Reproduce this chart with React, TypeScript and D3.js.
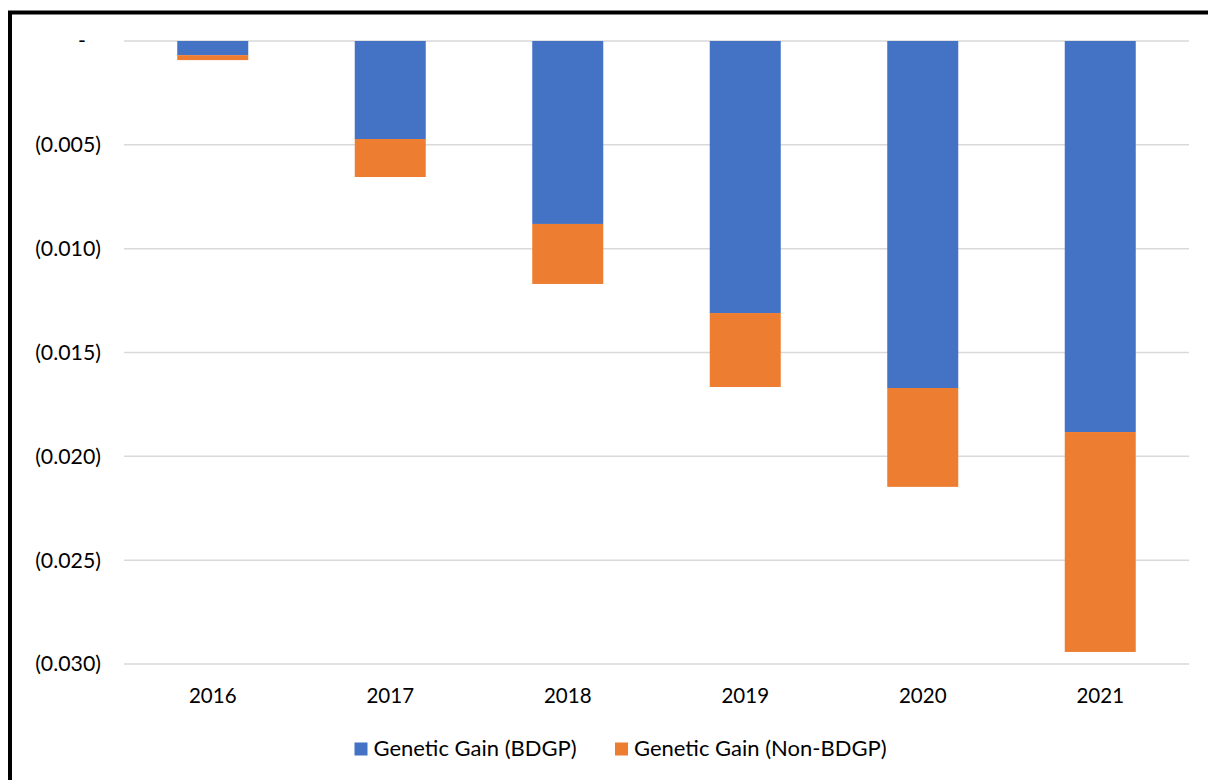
import React from "react";
import * as d3 from "d3";

const years = ["2016", "2017", "2018", "2019", "2020", "2021"];
const bdgp = [-0.00068, -0.00472, -0.00881, -0.0131, -0.01671, -0.01883];
const nonBdgp = [-0.00024, -0.00183, -0.00289, -0.00356, -0.00476, -0.01059];
const yTicks = [0, -0.005, -0.01, -0.015, -0.02, -0.025, -0.03];
const seriesNames = ["Genetic Gain (BDGP)", "Genetic Gain (Non-BDGP)"];
const colors = ["#4472C4", "#ED7D31"];

const W = 1208;
const H = 780;
const FONT = "Lato, 'Open Sans', sans-serif";

function fmt(v: number) {
  if (v === 0) return "-";
  const s = Math.abs(v).toFixed(3);
  return v < 0 ? `(${s})` : s;
}

export default function App() {
  const x = d3
    .scaleBand<string>()
    .domain(years)
    .range([124, 1189])
    .paddingInner(0.6)
    .paddingOuter(0.3);
  const y = d3.scaleLinear().domain([0, -0.03]).range([41, 664]);

  return (
    <svg
      width={W}
      height={H}
      style={{ position: "absolute", left: 0, top: 0, background: "#fff" }}
    >
      <rect x={0} y={0} width={W} height={H} fill="#fff" />
      {/* frame */}
      <rect
        x={10}
        y={12.5}
        width={W + 20}
        height={H + 20}
        fill="none"
        stroke="#000"
        strokeWidth={4}
      />
      {yTicks.map((t) => (
        <g key={t}>
          <line
            x1={124}
            x2={1189}
            y1={y(t)}
            y2={y(t)}
            stroke="#d9d9d9"
            strokeWidth={1.5}
          />
          <text
            x={t === 0 ? 86 : 101}
            y={y(t)}
            dy="0.35em"
            textAnchor="end"
            fontFamily={FONT}
            fontSize={21.3}
            fill="#000"
          >
            {fmt(t)}
          </text>
        </g>
      ))}
      {years.map((yr, i) => {
        const bx = x(yr)!;
        const bw = x.bandwidth();
        const b0 = y(0);
        const b1 = y(bdgp[i]);
        const o1 = y(bdgp[i] + nonBdgp[i]);
        return (
          <g key={yr}>
            <rect x={bx} y={b0} width={bw} height={b1 - b0} fill={colors[0]} />
            <rect x={bx} y={b1} width={bw} height={o1 - b1} fill={colors[1]} />
            <text
              x={bx + bw / 2}
              y={703}
              textAnchor="middle"
              fontFamily={FONT}
              fontSize={20.5}
              fill="#000"
            >
              {yr}
            </text>
          </g>
        );
      })}
      {/* legend */}
      {seriesNames.map((name, i) => {
        const lx = i === 0 ? 354.5 : 615;
        return (
          <g key={name}>
            <rect x={lx} y={742.5} width={13} height={13} fill={colors[i]} />
            <text
              x={lx + 19}
              y={756}
              fontFamily={FONT}
              fontSize={22}
              fill="#000"
            >
              {name}
            </text>
          </g>
        );
      })}
    </svg>
  );
}
